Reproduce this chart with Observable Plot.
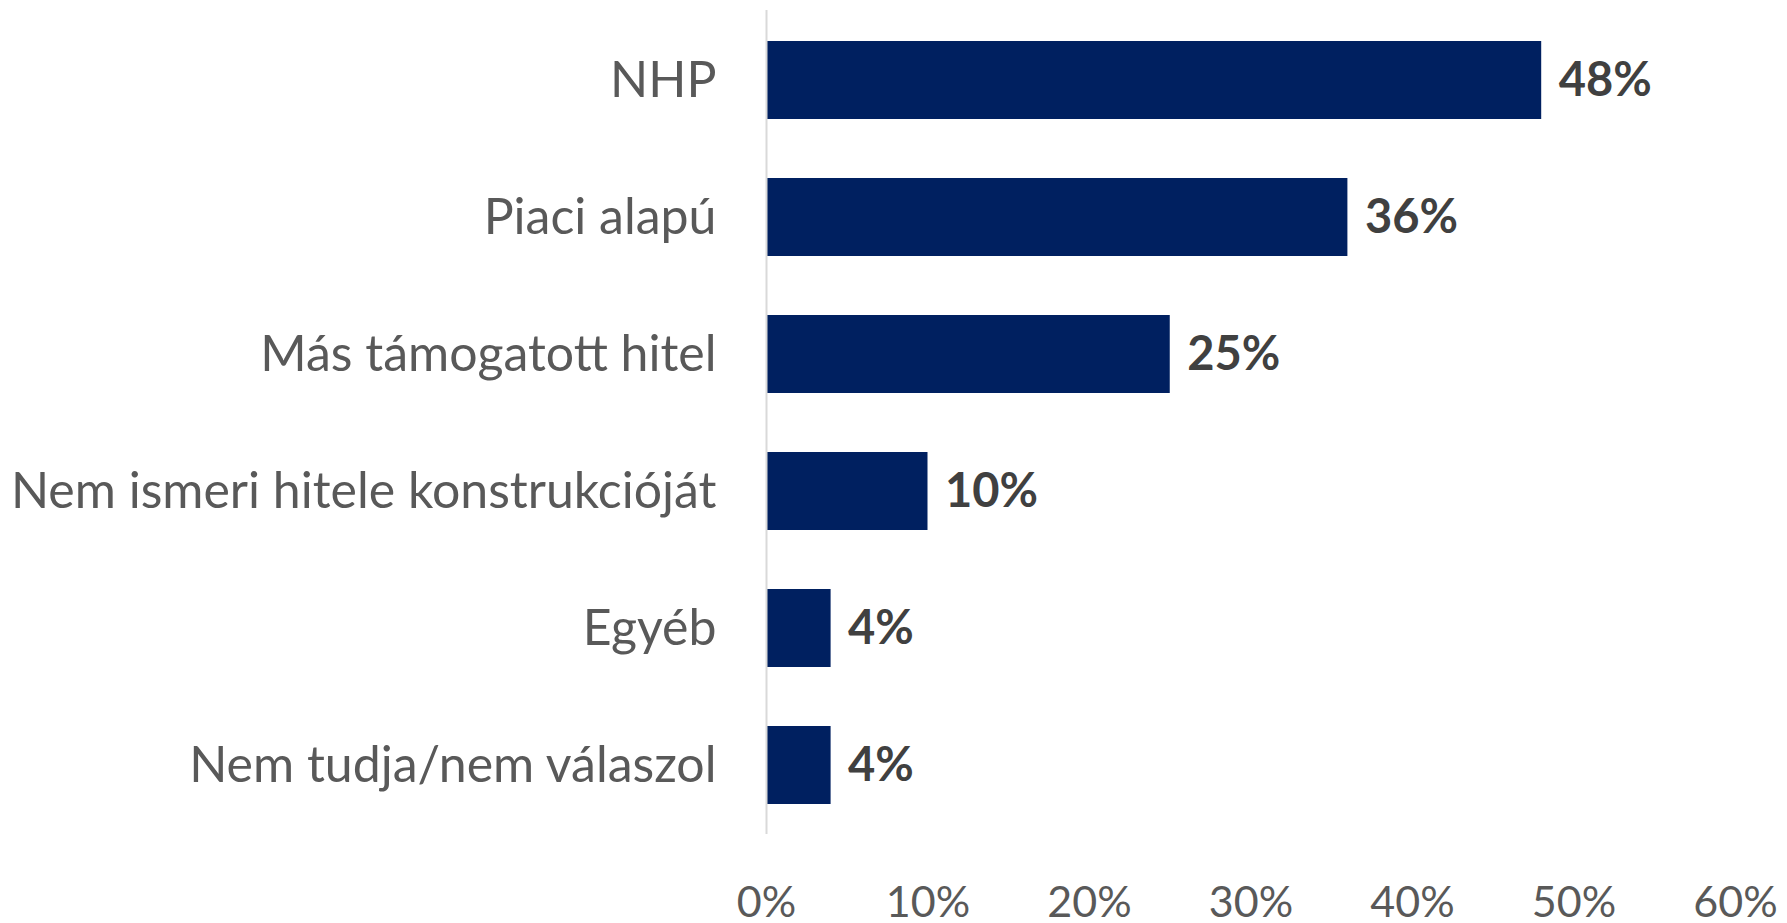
<!DOCTYPE html>
<html><head><meta charset="utf-8">
<script src="https://cdn.jsdelivr.net/npm/d3@7"></script>
<script src="https://cdn.jsdelivr.net/npm/@observablehq/plot@0.6"></script>
<style>html,body{margin:0;padding:0;background:#fff;overflow:hidden}</style>
</head><body><div id="chart"></div>
<script>
const categories = ["NHP", "Piaci alapú", "Más támogatott hitel", "Nem ismeri hitele konstrukcióját", "Egyéb", "Nem tudja/nem válaszol"];
const values = [0.48, 0.36, 0.25, 0.10, 0.04, 0.04];
const xTicks = [0, 0.1, 0.2, 0.3, 0.4, 0.5, 0.6];

const data = categories.map((c, i) => ({category: c, value: values[i]}));
const pct = d3.format(".0%");

const chart = Plot.plot({
  width: 1787, height: 923,
  marginLeft: 766, marginRight: 52, marginTop: 10, marginBottom: 89,
  style: {fontFamily: "Lato, 'Open Sans', sans-serif", background: "#fff", overflow: "visible"},
  x: {domain: [0, 0.6], label: null},
  y: {domain: categories, paddingInner: 0.432, paddingOuter: 0.216, label: null},
  marks: [
    Plot.barX(data, {y: "category", x: "value", fill: "#002060"}),
    Plot.ruleX([0], {stroke: "#D9D9D9", strokeWidth: 2}),
    Plot.axisX({ticks: xTicks, tickFormat: pct, tickSize: 0, tickPadding: 52, fontSize: 43, color: "#595959", label: null}),
    Plot.axisY({tickSize: 0, tickPadding: 50, fontSize: 50, color: "#595959", label: null}),
    Plot.text(data, {y: "category", x: "value", text: d => pct(d.value), dx: 17, textAnchor: "start", fontWeight: "bold", fontSize: 47, fill: "#404040"})
  ]
});
document.getElementById("chart").appendChild(chart);
</script>
</body></html>
